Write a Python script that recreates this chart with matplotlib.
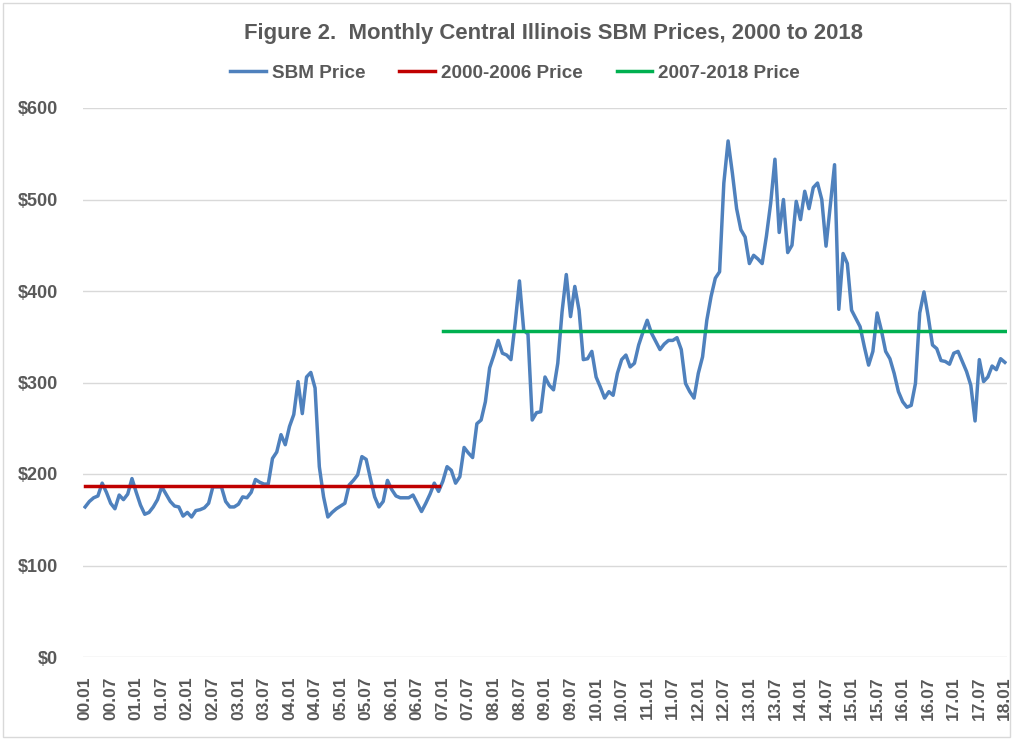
import matplotlib
matplotlib.use("Agg")
import matplotlib.pyplot as plt
import numpy as np

# ---- data (monthly, 2000.01 .. 2018.01) ----
sbm_2000_2003 = [164, 170, 174, 176, 190, 180, 168, 162, 177, 172, 178, 195,
                 180, 166, 156, 158, 164, 172, 186, 178, 170, 165, 164, 154,
                 158, 153, 160, 161, 163, 168, 186, 186, 186, 170, 164, 164,
                 167, 175, 174, 180, 194, 191, 189, 189, 217, 224, 243, 232]
sbm_2004_2007 = [252, 265, 301, 266, 306, 311, 294, 208, 175, 153, 158, 162,
                 165, 168, 188, 193, 199, 219, 216, 195, 175, 164, 170, 193,
                 183, 176, 174, 174, 174, 177, 168, 159, 168, 178, 190, 181,
                 192, 208, 204, 190, 197, 229, 223, 218, 255, 259, 279, 316]
sbm_2008_2011 = [330, 346, 332, 330, 325, 365, 411, 357, 353, 259, 267, 268,
                 306, 297, 292, 321, 377, 418, 372, 405, 379, 325, 326, 334,
                 306, 295, 283, 290, 286, 310, 325, 330, 317, 321, 341, 355,
                 368, 354, 345, 336, 342, 346, 346, 349, 336, 299, 290, 283]
sbm_2012_2015 = [310, 328, 368, 394, 414, 421, 518, 564, 529, 490, 467, 459,
                 430, 439, 435, 430, 460, 496, 544, 464, 500, 442, 450, 498,
                 478, 509, 490, 513, 518, 500, 449, 493, 538, 380, 441, 430,
                 379, 370, 361, 339, 319, 334, 376, 357, 334, 326, 310, 290]
sbm_2016_2018 = [279, 273, 275, 299, 376, 399, 372, 341, 337, 324, 323, 320,
                 332, 334, 323, 312, 297, 258, 325, 301, 306, 318, 314, 326,
                 322]
sbm_price = sbm_2000_2003 + sbm_2004_2007 + sbm_2008_2011 + sbm_2012_2015 + sbm_2016_2018

avg_2000_2006 = 187     # flat level, Jan 2000 - Dec 2006
avg_2007_2018 = 356     # flat level, Jan 2007 - Jan 2018
tick_labels = [f"{y:02d}.{m:02d}" for y in range(0, 18) for m in (1, 7)] + ["18.01"]

series_names = ["SBM Price", "2000-2006 Price", "2007-2018 Price"]
colors = ["#4F81BD", "#C00000", "#00B050"]

# ---- plot ----
plt.rcParams['font.family'] = ['Liberation Sans', 'DejaVu Sans']
W, H = 1013, 740
fig = plt.figure(figsize=(W / 100, H / 100), dpi=100)
ax = fig.add_axes([83 / W, 1 - 657 / H, (1007 - 83) / W, (657 - 108) / H])

n = len(sbm_price)
x = np.arange(n)
ax.plot(x, sbm_price, color=colors[0], lw=2.5, label=series_names[0],
        solid_joinstyle='round', zorder=3)
x_red = np.arange(0, 84)
ax.plot(x_red, [avg_2000_2006] * len(x_red), color=colors[1], lw=2.5,
        label=series_names[1], zorder=4)
x_green = np.arange(84, n)
ax.plot(x_green, [avg_2007_2018] * len(x_green), color=colors[2], lw=2.5,
        label=series_names[2], zorder=4)

ax.set_xlim(-0.5, n - 0.5)
ax.set_ylim(0, 600)
ax.set_yticks(np.arange(0, 601, 100))
ax.set_yticklabels([f"${v}" for v in range(0, 601, 100)])
ax.set_xticks(np.arange(0, n, 6))
ax.set_xticklabels(tick_labels, rotation=90)

ax.grid(axis='y', color='#D9D9D9', lw=1.0, zorder=0)
for s in ax.spines.values():
    s.set_visible(False)
ax.tick_params(axis='both', length=0, colors='#595959')
ax.tick_params(axis='y', pad=18)
ax.tick_params(axis='x', pad=14)
for lbl in ax.get_yticklabels():
    lbl.set_fontsize(13)
    lbl.set_fontweight('bold')
for lbl in ax.get_xticklabels():
    lbl.set_fontsize(12.5)
    lbl.set_fontweight('bold')

fig.text(553 / W, 1 - 33 / H, "Figure 2.  Monthly Central Illinois SBM Prices, 2000 to 2018",
         ha='center', va='center', fontsize=15.9, fontweight='bold', color='#595959')

leg = fig.legend(loc='center', bbox_to_anchor=(515 / W, 1 - 73 / H), ncol=3,
                 frameon=False, handlelength=1.9, handletextpad=0.3, columnspacing=1.8,
                 prop={'weight': 'bold', 'size': 13.6})
for t in leg.get_texts():
    t.set_color('#595959')
for h in leg.legend_handles:
    h.set_linewidth(2.5)

# chart-area border
fig.patches.append(plt.Rectangle((3 / W, 3 / H), 1 - 6 / W, 1 - 6 / H, transform=fig.transFigure,
                                 fill=False, edgecolor='#D9D9D9', lw=1.0))

fig.savefig("out.png", dpi=100)
